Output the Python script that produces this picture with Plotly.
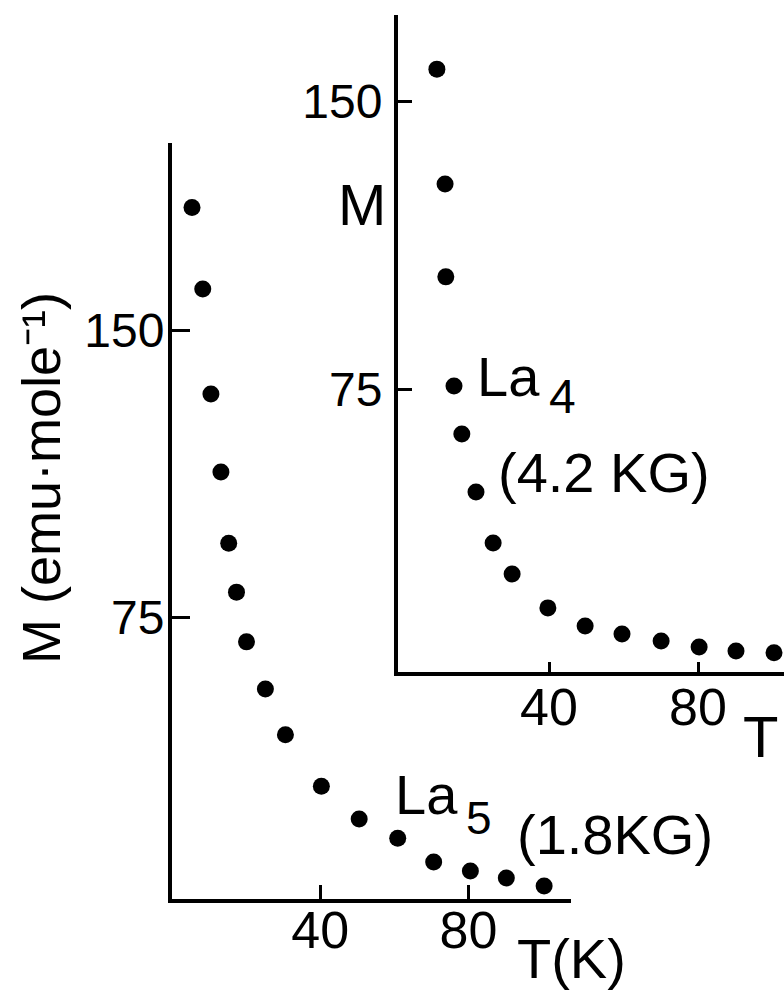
import plotly.graph_objects as go

# ---------------- data ----------------
# La5 (1.8 KG) – main panel
T_la5 = [5.4, 8.3, 10.5, 13.2, 15.3, 17.4, 20.1, 25.2, 30.6, 40.3, 50.5, 60.9, 70.6, 80.5, 90.2, 100.4]
M_la5 = [182.0, 160.7, 133.3, 112.9, 94.3, 81.5, 68.5, 56.2, 44.2, 30.8, 22.2, 17.2, 11.0, 8.6, 6.8, 4.7]

# La4 (4.2 KG) – inset panel
T_la4 = [9.9, 12.1, 12.3, 14.5, 16.6, 20.4, 25.0, 30.1, 39.7, 49.7, 59.6, 70.1, 80.3, 90.2, 100.4]
M_la4 = [158.3, 128.4, 104.2, 75.8, 63.3, 48.2, 34.9, 26.8, 18.0, 13.3, 11.2, 9.4, 7.8, 6.8, 6.3]

x_ticks = [40, 80]
x_ticklabels = ["40", "80"]
y_ticks = [75, 150]
y_ticklabels = ["75", "150"]

W, H = 784, 992
FONT = "Liberation Sans"


def px(x):
    return x / W


def py(y):
    return 1 - y / H


fig = go.Figure()

fig.add_trace(go.Scatter(
    x=T_la5, y=M_la5, mode="markers", xaxis="x", yaxis="y",
    marker=dict(size=17, color="black"), showlegend=False, cliponaxis=False))
fig.add_trace(go.Scatter(
    x=T_la4, y=M_la4, mode="markers", xaxis="x2", yaxis="y2",
    marker=dict(size=17, color="black"), showlegend=False, cliponaxis=False))

axis_common = dict(
    showgrid=False, zeroline=False, showline=True, linecolor="black",
    linewidth=4, ticks="inside", tickcolor="black", tickwidth=3,
)
xfont = dict(family=FONT, size=52, color="black")
yfont = dict(family=FONT, size=48, color="black")

fig.update_layout(
    width=W, height=H,
    margin=dict(l=0, r=0, t=0, b=0),
    paper_bgcolor="white", plot_bgcolor="rgba(0,0,0,0)",
    font=dict(family=FONT, color="black"),
    xaxis=dict(domain=[px(172), px(571)], range=[0, (571 - 170) / 149 * 40],
               tickvals=x_ticks, ticktext=x_ticklabels, ticklen=14,
               ticklabelstandoff=-17, anchor="y", tickfont=xfont, **axis_common),
    yaxis=dict(domain=[py(899), py(143)],
               range=[(904 - 899) / 287 * 75, (904 - 143) / 287 * 75],
               tickvals=y_ticks, ticktext=y_ticklabels, ticklen=18,
               ticklabelstandoff=-6, anchor="x", tickfont=yfont, **axis_common),
    xaxis2=dict(domain=[px(398), 1.0], range=[(398 - 400) / 149 * 40, (784 - 400) / 149 * 40],
                tickvals=x_ticks, ticktext=x_ticklabels, ticklen=10,
                ticklabelstandoff=-13, anchor="y2", tickfont=xfont, **axis_common),
    yaxis2=dict(domain=[py(672), py(15)],
                range=[(677 - 672) / 288 * 75, (677 - 15) / 288 * 75],
                tickvals=y_ticks, ticktext=y_ticklabels, ticklen=14,
                ticklabelstandoff=2, anchor="x2", tickfont=yfont, **axis_common),
)

ann = []


def text(t, x, y, size, xanchor="center", yanchor="middle", angle=0):
    ann.append(dict(text=t, x=px(x), y=py(y), xref="paper", yref="paper",
                    xanchor=xanchor, yanchor=yanchor, showarrow=False,
                    textangle=angle, font=dict(family=FONT, size=size, color="black")))


text("M (emu·mole⁻¹)", 41, 478, 54, angle=-90)
text("M", 362, 204, 58)
text("T(K)", 571, 958, 56)
text("T", 760, 736, 58)
text("La", 475, 376, 56, xanchor="left")
text("4", 562, 397, 48)
text("(4.2 KG)", 604, 472, 56)
text("La", 393, 794, 56, xanchor="left")
text("5", 479, 818, 46)
text("(1.8KG)", 615, 834, 56)

fig.update_layout(annotations=ann)

fig.write_html("out.html")
